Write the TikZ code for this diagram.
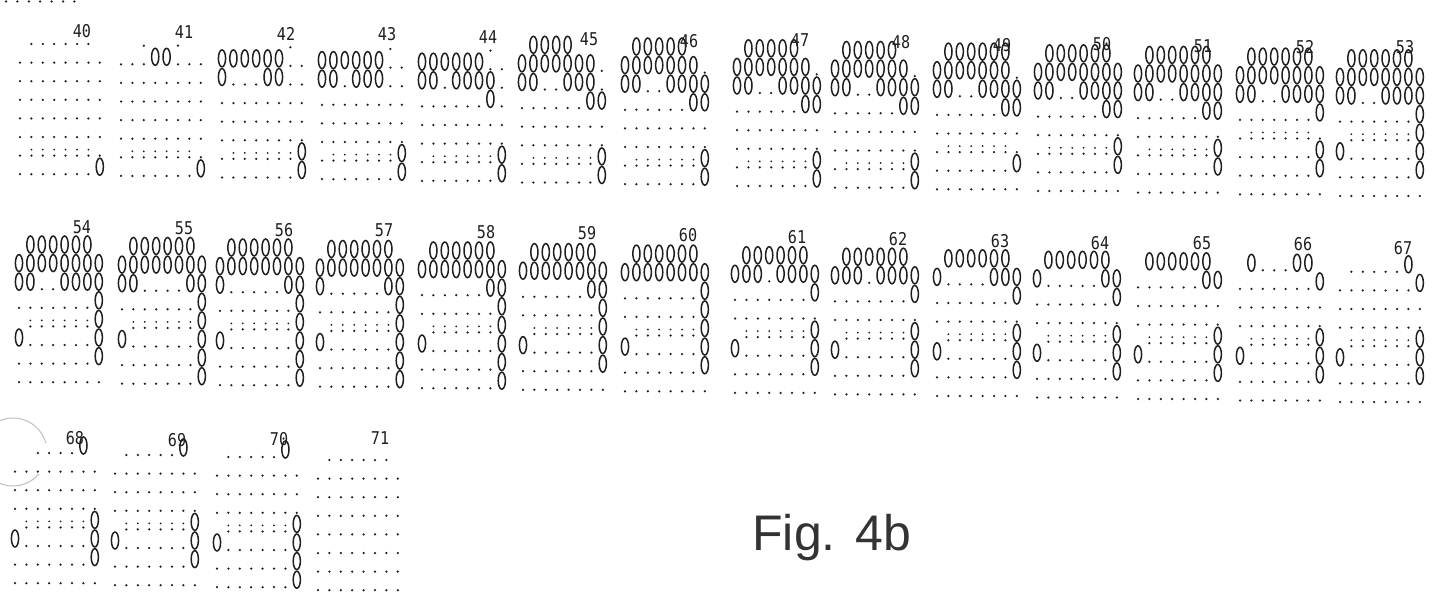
\documentclass[tikz,border=0pt]{standalone}
\usepackage{fontspec}
\setmainfont{Liberation Sans}
\newfontfamily\labfont{DejaVu Sans Mono}
\tikzset{
  dotc/.style={fill=black!88},
  zc/.style={draw=black!88, line width=0.75pt},
  lab/.style={font=\labfont\fontsize{8.8}{9}\selectfont, inner sep=0pt, text=black!88},
  figlab/.style={font=\fontsize{25}{25}\selectfont, inner sep=0pt, text=black!80, anchor=base west},
  punch/.style={draw=black!25, line width=0.5pt}
}
\makeatletter
\newcommand\pxrow[3]{\def\pr@x{#1}\def\pr@y{#2}\def\pr@c{0}\pr@loop#3\relax}
\def\pr@loop#1{\ifx#1\relax\else\pr@char#1\edef\pr@c{\the\numexpr\pr@c+1\relax}\expandafter\pr@loop\fi}
\def\pr@char#1{%
  \ifx#1d\fill[dotc] ({\pr@x+\pr@c*11.4},{\pr@y}) circle (1.25);\fi
  \ifx#1c\fill[dotc] ({\pr@x+\pr@c*11.4},{\pr@y}) circle (1.25);\fill[dotc] ({\pr@x+\pr@c*11.4},{\pr@y-6}) circle (1.0);\fi
  \ifx#1o\draw[zc] ({\pr@x+\pr@c*11.4},{\pr@y-7.5}) ellipse [x radius=3.6, y radius=8.5];\fi}
\newcommand\pxblock[6]{%
  \node[lab] (L#3) at (#4,#5) {\scalebox{0.86}[1]{#3}};
  \foreach \rr [count=\ii from 0] in {#6}{\edef\pb@tmp{\noexpand\pxrow{#1}{#2+\ii*18.6}{\rr}}\pb@tmp}}
\makeatother
\begin{document}
\begin{tikzpicture}[x=0.5pt,y=-0.5pt]
\fill[white] (0,0) rectangle (1437,605);
\useasboundingbox (0,0) rectangle (1437,605);
% cut-off line at the top edge and punch-hole shadow
\pxrow{6}{1.5}{ddddddd}
\coordinate (ph) at (13,452);
\draw[punch] (ph) ++(240:34) arc[start angle=240, end angle=345, radius=34];
\draw[punch] (ph) ++(40:34) arc[start angle=40, end angle=115, radius=34];
% row 1
\pxblock{20}{44.0}{40}{82}{31}{xddddddx,dddddddd,dddddddd,dddddddd,dddddddd,dddddddd,dccccccd,dddddddo}
\pxblock{121}{45.7}{41}{184}{32}{xxdxxdxx,dddooddd,dddddddd,dddddddd,dddddddd,dddddddd,dccccccd,dddddddo}
\pxblock{222}{47.3}{42}{286}{34}{xxxxxxdx,oooooodd,odddoodd,dddddddd,dddddddd,dddddddd,dcccccco,dddddddo}
\pxblock{322}{49.0}{43}{387}{34}{xxxxxxdx,oooooodd,oodooodd,dddddddd,dddddddd,dddddddd,dcccccco,dddddddo}
\pxblock{422}{50.6}{44}{488}{37}{xxxxxxdx,oooooodd,oodooood,ddddddod,dddddddd,dddddddd,dcccccco,dddddddo}
\pxblock{522}{52.3}{45}{589}{39}{xooooxxx,oooooood,ooddoood,ddddddoo,dddddddd,dddddddd,dcccccco,dddddddo}
\pxblock{625}{54.0}{46}{689}{41}{xoooooxx,oooooood,ooddoooo,ddddddoo,dddddddd,dddddddd,dcccccco,dddddddo}
\pxblock{737}{55.8}{47}{800}{40}{xoooooxx,oooooood,ooddoooo,ddddddoo,dddddddd,dddddddd,dcccccco,dddddddo}
\pxblock{835}{57.5}{48}{901}{42}{xoooooxx,oooooood,ooddoooo,ddddddoo,dddddddd,dddddddd,dcccccco,dddddddo}
\pxblock{937}{59.1}{49}{1002}{45}{xoooooox,oooooood,ooddoooo,ddddddoo,dddddddd,dccccccd,dddddddo,dddddddd}
\pxblock{1038}{60.8}{50}{1102}{44}{xoooooox,oooooooo,ooddoooo,ddddddoo,dddddddd,dcccccco,dddddddo,dddddddd}
\pxblock{1138}{62.4}{51}{1203}{46}{xoooooox,oooooooo,ooddoooo,ddddddoo,dddddddd,dcccccco,dddddddo,dddddddd}
\pxblock{1240}{64.1}{52}{1305}{47}{xoooooox,oooooooo,ooddoooo,dddddddo,dccccccd,dddddddo,dddddddo,dddddddd}
\pxblock{1340}{65.8}{53}{1405}{47}{xoooooox,oooooooo,ooddoooo,dddddddo,xcccccco,oddddddo,dddddddo,dddddddd}
% row 2
\pxblock{19}{252}{54}{82}{227}{xoooooox,oooooooo,ooddoooo,dddddddo,xcccccco,oddddddo,dddddddo,dddddddd}
\pxblock{122}{253.5}{55}{184}{228}{xoooooox,oooooooo,ooddddoo,dddddddo,xcccccco,oddddddo,dddddddo,dddddddo}
\pxblock{220}{255}{56}{284}{230}{xoooooox,oooooooo,odddddoo,dddddddo,xcccccco,oddddddo,dddddddo,dddddddo}
\pxblock{320}{256.5}{57}{384}{230}{xoooooox,oooooooo,odddddoo,dddddddo,xcccccco,oddddddo,dddddddo,dddddddo}
\pxblock{422}{258}{58}{486}{232}{xoooooox,oooooooo,ddddddoo,dddddddo,xcccccco,oddddddo,dddddddo,dddddddo}
\pxblock{523}{259.6}{59}{587}{233}{xoooooox,oooooooo,ddddddoo,dddddddo,xcccccco,oddddddo,dddddddo,dddddddd}
\pxblock{625}{261.1}{60}{688}{235}{xoooooox,oooooooo,dddddddo,dddddddo,xcccccco,oddddddo,dddddddo,dddddddd}
\pxblock{735}{262.7}{61}{797}{237}{xoooooox,ooodoooo,dddddddo,dddddddd,xcccccco,oddddddo,dddddddo,dddddddd}
\pxblock{835}{264.2}{62}{898}{239}{xoooooox,ooodoooo,dddddddo,dddddddd,xcccccco,oddddddo,dddddddo,dddddddd}
\pxblock{937}{265.8}{63}{1000}{241}{xoooooox,oddddooo,dddddddo,dddddddd,xcccccco,oddddddo,dddddddo,dddddddd}
\pxblock{1037}{267.3}{64}{1100}{243}{xoooooox,odddddoo,dddddddo,dddddddd,xcccccco,oddddddo,dddddddo,dddddddd}
\pxblock{1138}{268.8}{65}{1202}{243}{xoooooox,ddddddoo,dddddddd,dddddddd,xcccccco,oddddddo,dddddddo,dddddddd}
\pxblock{1240}{270.3}{66}{1303}{244}{xodddoox,dddddddo,dddddddd,dddddddd,xcccccco,oddddddo,dddddddo,dddddddd}
\pxblock{1340}{271.8}{67}{1403}{248}{xdddddox,dddddddo,dddddddd,dddddddd,xcccccco,oddddddo,dddddddo,dddddddd}
% row 3
\pxblock{15}{453}{68}{75}{438}{xxddddox,dddddddd,dddddddd,dddddddd,xcccccco,oddddddo,dddddddo,dddddddd}
\pxblock{115}{455}{69}{177}{440}{xdddddox,dddddddd,dddddddd,dddddddd,xcccccco,oddddddo,dddddddo,dddddddd}
\pxblock{217}{457}{70}{279}{439}{xdddddox,dddddddd,dddddddd,dddddddd,xcccccco,oddddddo,dddddddo,dddddddo}
\pxblock{318}{460}{71}{380}{438}{xddddddx,dddddddd,dddddddd,dddddddd,dddddddd,dddddddd,dddddddd,dddddddd}
% caption
\node[figlab] (fig) at (752,550) {Fig.\hspace{10pt}4b};
\end{tikzpicture}
\end{document}
